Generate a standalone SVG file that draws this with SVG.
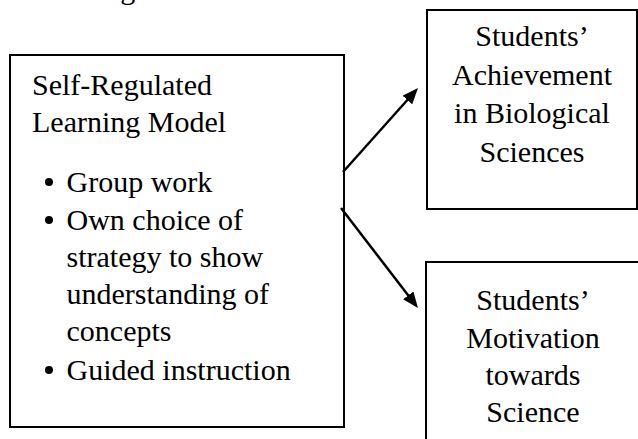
<svg xmlns="http://www.w3.org/2000/svg" width="638" height="439" viewBox="0 0 638 439">
<style>
  .box { fill: #fff; stroke: #000; stroke-width: 2; }
  .conn { stroke: #000; stroke-width: 2.5; fill: none; }
</style>
<defs>
  <marker id="arrow" markerUnits="userSpaceOnUse" markerWidth="16" markerHeight="13" refX="8" refY="6.5" orient="auto">
    <path d="M0,0 L16,6.5 L0,13 z" fill="#000"/>
  </marker>
</defs>
<rect width="638" height="439" fill="#fff"/>
<text x="27" y="-1.5" font-family="Liberation Serif" font-size="30">Learning</text>
<g id="srl-model">
  <rect class="box" x="10" y="55" width="334" height="372"/>
  <text x="32" y="95" font-family="Liberation Serif" font-size="30">Self-Regulated</text>
  <text x="32" y="132" font-family="Liberation Serif" font-size="30">Learning Model</text>
  <circle cx="49" cy="182" r="4"/>
  <text x="66.5" y="192" font-family="Liberation Serif" font-size="30">Group work</text>
  <circle cx="49" cy="220" r="4"/>
  <text x="66.5" y="230" font-family="Liberation Serif" font-size="30">Own choice of</text>
  <text x="66.5" y="267" font-family="Liberation Serif" font-size="30">strategy to show</text>
  <text x="66.5" y="304" font-family="Liberation Serif" font-size="30">understanding of</text>
  <text x="66.5" y="341" font-family="Liberation Serif" font-size="30">concepts</text>
  <circle cx="49" cy="370" r="4"/>
  <text x="66.5" y="380" font-family="Liberation Serif" font-size="30">Guided instruction</text>
</g>
<g id="achievement">
  <rect class="box" x="427" y="10" width="210" height="199"/>
  <text x="532" y="46" font-family="Liberation Serif" font-size="30" text-anchor="middle">Students&#8217;</text>
  <text x="532" y="84.5" font-family="Liberation Serif" font-size="30" text-anchor="middle">Achievement</text>
  <text x="532" y="123" font-family="Liberation Serif" font-size="30" text-anchor="middle">in Biological</text>
  <text x="532" y="161.5" font-family="Liberation Serif" font-size="30" text-anchor="middle">Sciences</text>
</g>
<g id="motivation">
  <rect class="box" x="426" y="262" width="216" height="200"/>
  <text x="533" y="310" font-family="Liberation Serif" font-size="30" text-anchor="middle">Students&#8217;</text>
  <text x="533" y="348" font-family="Liberation Serif" font-size="30" text-anchor="middle">Motivation</text>
  <text x="533" y="385" font-family="Liberation Serif" font-size="30" text-anchor="middle">towards</text>
  <text x="533" y="422" font-family="Liberation Serif" font-size="30" text-anchor="middle">Science</text>
</g>
<g id="connectors">
  <line class="conn" x1="343" y1="172" x2="412.7" y2="94" marker-end="url(#arrow)"/>
  <line class="conn" x1="341" y1="208" x2="413.1" y2="301.7" marker-end="url(#arrow)"/>
</g>
</svg>
